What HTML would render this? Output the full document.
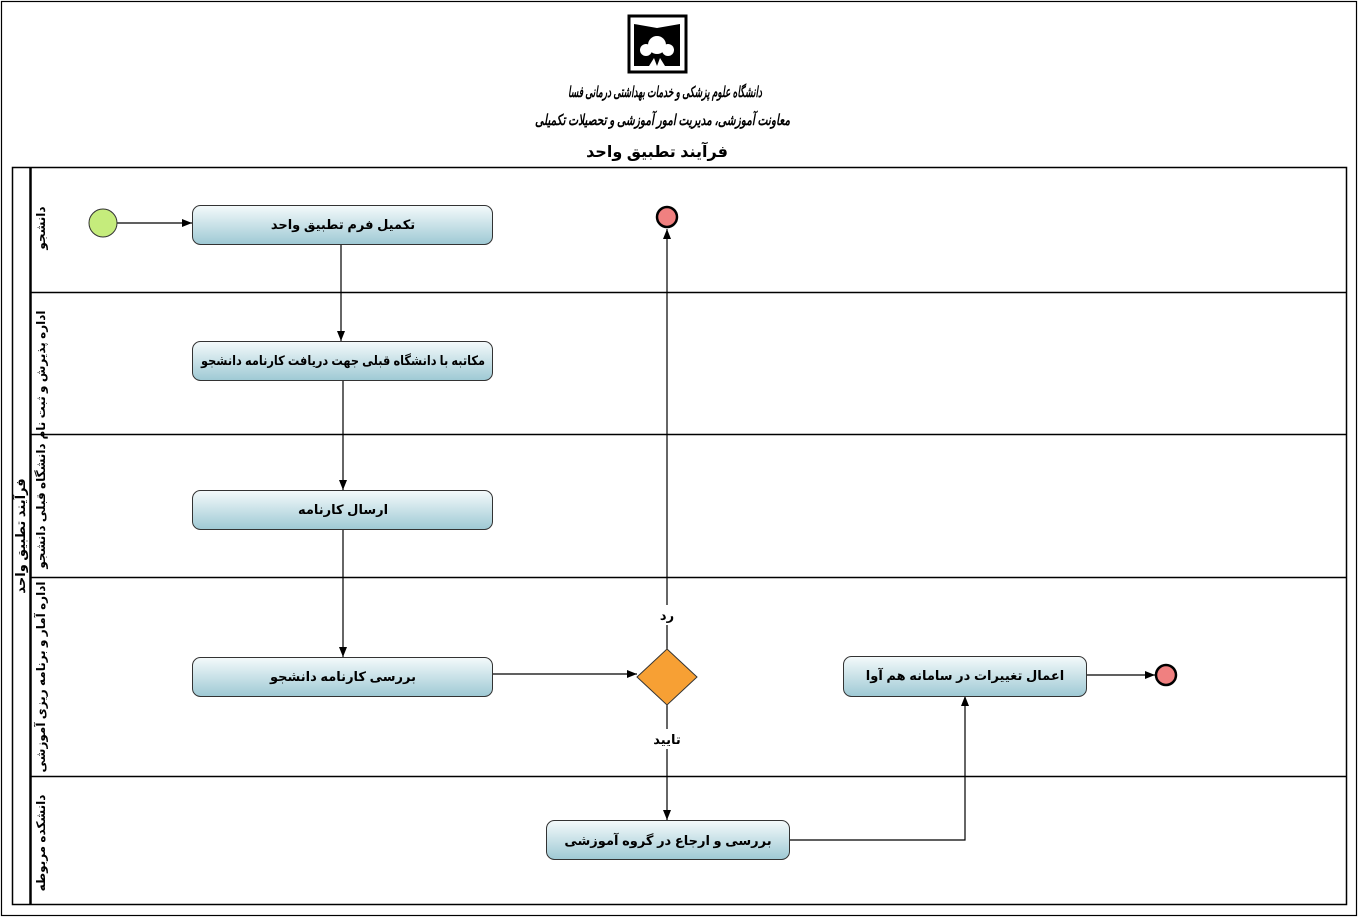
<!DOCTYPE html>
<html><head><meta charset="utf-8"><style>
html,body{margin:0;padding:0;background:#fff;}
svg{display:block;font-family:"Liberation Sans","Noto Sans CJK SC","DejaVu Sans",sans-serif;}
.t{font-size:13px;font-weight:bold;fill:#000;text-anchor:middle;}
.l{font-size:12px;font-weight:bold;fill:#000;text-anchor:middle;}
</style></head><body>
<svg width="1360" height="918" viewBox="0 0 1360 918" xmlns="http://www.w3.org/2000/svg">
<defs>
<linearGradient id="g" x1="0" y1="0" x2="0" y2="1"><stop offset="0" stop-color="#f4fafb"/><stop offset="1" stop-color="#9ec9d4"/></linearGradient>
<marker id="a" markerWidth="10" markerHeight="8" refX="10" refY="4" orient="auto" markerUnits="userSpaceOnUse"><path d="M0,0 L10,4 L0,8 z" fill="#000"/></marker>
</defs>
<rect x="1.5" y="1.5" width="1355" height="914" fill="none" stroke="#000" stroke-width="1.2"/>
<!-- header -->
<rect x="629" y="16" width="57" height="56" fill="#fff" stroke="#000" stroke-width="3"/>
<path d="M634,24 L657,28 L680,24 L680,66 L665,66 L660,58 L657,66 L654,58 L649,66 L634,66 Z" fill="#000"/>
<circle cx="657" cy="45" r="9" fill="#fff"/><circle cx="646" cy="50" r="6" fill="#fff"/><circle cx="668" cy="50" r="6" fill="#fff"/>
<text x="568" y="97" textLength="194" lengthAdjust="spacingAndGlyphs" style="font-size:15px;font-weight:bold;font-style:italic;font-family:'Liberation Serif','DejaVu Serif',serif">دانشگاه علوم پزشکی و خدمات بهداشتی درمانی فسا</text>
<text x="535" y="125" textLength="255" lengthAdjust="spacingAndGlyphs" style="font-size:15px;font-weight:bold;font-style:italic;font-family:'Liberation Serif','DejaVu Serif',serif">معاونت آموزشی، مدیریت امور آموزشی و تحصیلات تکمیلی</text>
<text x="657" y="157" style="font-size:16px;font-weight:bold;text-anchor:middle">فرآیند تطبیق واحد</text>
<!-- pool -->
<rect x="12.5" y="167.5" width="1334" height="737" fill="none" stroke="#000" stroke-width="1.5"/>
<line x1="30.5" y1="167" x2="30.5" y2="905" stroke="#000" stroke-width="2.5"/>
<g stroke="#000" stroke-width="1.5">
<line x1="30" y1="292.5" x2="1347" y2="292.5"/>
<line x1="30" y1="434.5" x2="1347" y2="434.5"/>
<line x1="30" y1="577.5" x2="1347" y2="577.5"/>
<line x1="30" y1="776.5" x2="1347" y2="776.5"/>
</g>
<text class="t" transform="translate(25,536) rotate(-90)">فرآیند تطبیق واحد</text>
<text class="l" transform="translate(45,228) rotate(-90)">دانشجو</text>
<text class="l" transform="translate(45,375) rotate(-90)">اداره پذیرش و ثبت نام</text>
<text class="l" transform="translate(45,506) rotate(-90)">دانشگاه قبلی دانشجو</text>
<text class="l" transform="translate(45,677) rotate(-90)">اداره آمار و برنامه ریزی آموزشی</text>
<text class="l" transform="translate(45,843) rotate(-90)">دانشکده مربوطه</text>
<!-- connectors -->
<g stroke="#000" stroke-width="1.2" fill="none">
<line x1="117" y1="223" x2="192" y2="223" marker-end="url(#a)"/>
<line x1="341" y1="245" x2="341" y2="341" marker-end="url(#a)"/>
<line x1="343" y1="380" x2="343" y2="490" marker-end="url(#a)"/>
<line x1="343" y1="529" x2="343" y2="657" marker-end="url(#a)"/>
<line x1="493" y1="674" x2="637" y2="674" marker-end="url(#a)"/>
<line x1="667" y1="649" x2="667" y2="229" marker-end="url(#a)"/>
<line x1="667" y1="705" x2="667" y2="820" marker-end="url(#a)"/>
<polyline points="789,840 965,840 965,696" marker-end="url(#a)"/>
<line x1="1086" y1="675" x2="1155" y2="675" marker-end="url(#a)"/>
</g>
<rect x="656" y="605" width="22" height="20" fill="#fff"/>
<text class="t" x="667" y="620">رد</text>
<rect x="652" y="729" width="30" height="20" fill="#fff"/>
<text class="t" x="667" y="744">تایید</text>
<!-- events -->
<circle cx="103" cy="223" r="14" fill="#c5ec7c" stroke="#333" stroke-width="1"/>
<circle cx="667" cy="217" r="10" fill="#f08080" stroke="#000" stroke-width="2.5"/>
<circle cx="1166" cy="675" r="10" fill="#f08080" stroke="#000" stroke-width="2.5"/>
<!-- gateway -->
<polygon points="667,649 697,677 667,705 637,677" fill="#f7a034" stroke="#333" stroke-width="1"/>
<!-- tasks -->
<g stroke="#333" stroke-width="1" fill="url(#g)">
<rect x="192.5" y="205.5" width="300" height="39" rx="8"/>
<rect x="192.5" y="341.5" width="300" height="39" rx="8"/>
<rect x="192.5" y="490.5" width="300" height="39" rx="8"/>
<rect x="192.5" y="657.5" width="300" height="39" rx="8"/>
<rect x="843.5" y="656.5" width="243" height="40" rx="8"/>
<rect x="546.5" y="820.5" width="243" height="39" rx="8"/>
</g>
<text class="t" x="343" y="229">تکمیل فرم تطبیق واحد</text>
<text class="t" x="343" y="365" textLength="284" lengthAdjust="spacingAndGlyphs">مکاتبه با دانشگاه قبلی جهت دریافت کارنامه دانشجو</text>
<text class="t" x="343" y="514">ارسال کارنامه</text>
<text class="t" x="343" y="681">بررسی کارنامه دانشجو</text>
<text class="t" x="965" y="680">اعمال تغییرات در سامانه هم آوا</text>
<text class="t" x="668" y="845">بررسی و ارجاع در گروه آموزشی</text>
</svg>
</body></html>
